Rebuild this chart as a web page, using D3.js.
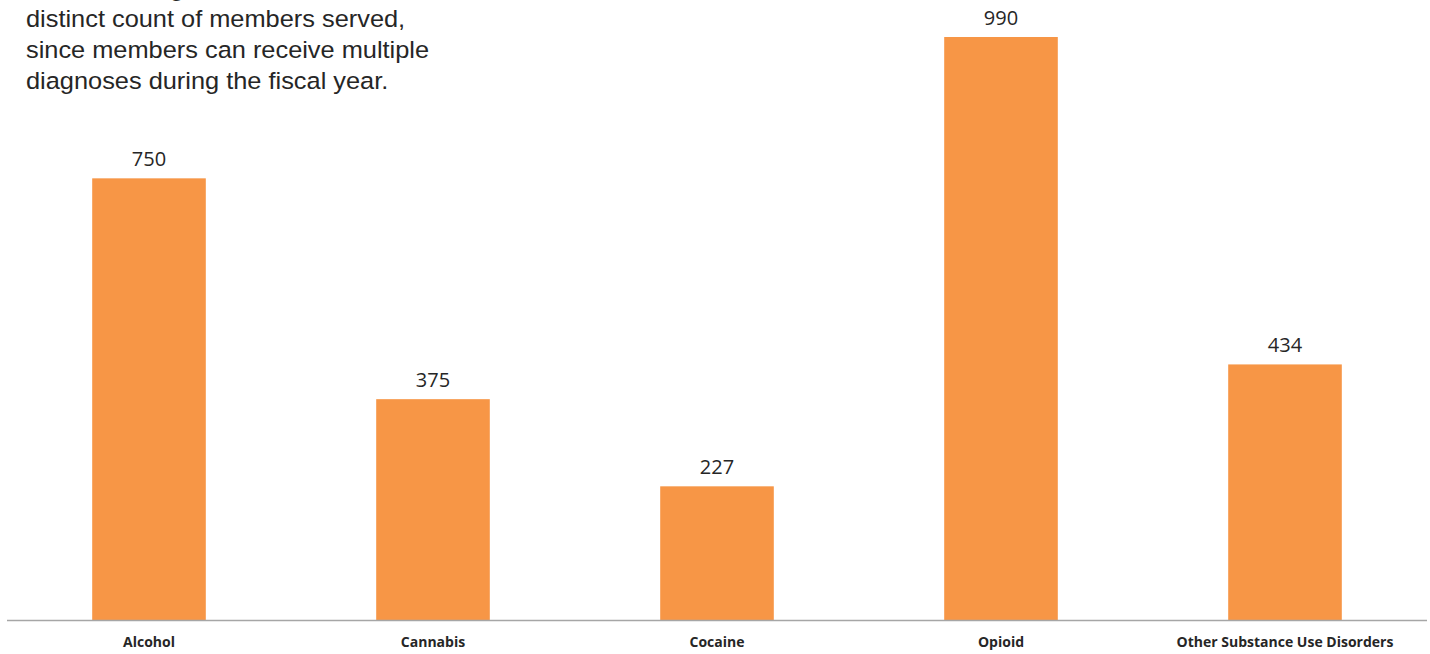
<!DOCTYPE html>
<html>
<head>
<meta charset="utf-8">
<script src="https://cdn.jsdelivr.net/npm/d3@7"></script>
<style>
  html, body { margin: 0; padding: 0; background: #ffffff; }
  svg { display: block; }
</style>
</head>
<body>
<svg id="chart" width="1430" height="654"></svg>
<script>
// Substance use disorder diagnoses by category
const categories = ["Alcohol", "Cannabis", "Cocaine", "Opioid", "Other Substance Use Disorders"];
const diagnoses = [750, 375, 227, 990, 434];
const noteLines = [
  "Totals for diagnoses will not sum to the",
  "distinct count of members served,",
  "since members can receive multiple",
  "diagnoses during the fiscal year."
];

const svg = d3.select("#chart");
const baseY = 620;

const x = d3.scaleBand()
  .domain(categories)
  .range([7, 1427])
  .paddingInner(0.6)
  .paddingOuter(0.3);

const y = d3.scaleLinear()
  .domain([0, 990])
  .range([baseY, 37]);

// bars
svg.append("g")
  .selectAll("rect")
  .data(categories)
  .join("rect")
  .attr("x", d => x(d))
  .attr("width", x.bandwidth())
  .attr("y", (d, i) => y(diagnoses[i]))
  .attr("height", (d, i) => baseY - y(diagnoses[i]))
  .attr("fill", "#f79646");

// value labels
svg.append("g")
  .selectAll("text")
  .data(categories)
  .join("text")
  .attr("x", d => x(d) + x.bandwidth() / 2)
  .attr("y", (d, i) => y(diagnoses[i]) - 12)
  .attr("text-anchor", "middle")
  .attr("font-family", "Open Sans, Liberation Sans, sans-serif")
  .attr("font-size", 20)
  .attr("fill", "#262626")
  .text((d, i) => diagnoses[i]);

// category axis
const axis = svg.append("g")
  .attr("transform", `translate(0,${baseY})`)
  .call(d3.axisBottom(x).tickSize(0).tickPadding(17));
axis.select(".domain").attr("stroke", "#a6a6a6").attr("stroke-width", 1.5)
  .attr("d", "M7,0.5H1427");
axis.selectAll(".tick text")
  .attr("font-family", "Open Sans, Liberation Sans, sans-serif")
  .attr("font-size", 14)
  .attr("font-weight", "bold")
  .attr("fill", "#262626");

// note text in the upper left
svg.append("g")
  .attr("transform", "translate(26,0) scale(1.08,1)")
  .selectAll("text")
  .data(noteLines)
  .join("text")
  .attr("x", 0)
  .attr("y", (d, i) => -4 + i * 31)
  .attr("font-family", "Liberation Sans, Arial, sans-serif")
  .attr("font-size", 23.5)
  .attr("fill", "#262626")
  .text(d => d);
</script>
</body>
</html>
